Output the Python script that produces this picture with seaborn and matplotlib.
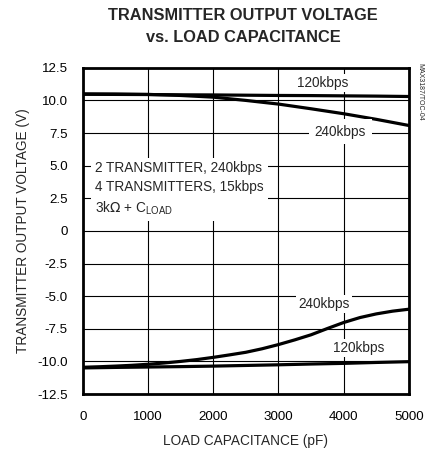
import matplotlib
matplotlib.use("Agg")
import matplotlib.pyplot as plt
import seaborn as sns
import pandas as pd

cap = [0, 500, 1000, 1500, 2000, 2500, 3000, 3500, 4000, 4500, 5000]
pos_120 = [10.47, 10.46, 10.45, 10.43, 10.42, 10.4, 10.38, 10.37, 10.35, 10.33, 10.3]
pos_240 = [10.5, 10.49, 10.46, 10.38, 10.25, 10.0, 9.72, 9.36, 8.98, 8.55, 8.08]
neg_120 = [-10.5, -10.46, -10.43, -10.4, -10.36, -10.31, -10.26, -10.2, -10.15, -10.08, -10.02]
cap_fine = [0, 250, 500, 750, 1000, 1250, 1500, 1750, 2000, 2250, 2500,
            2750, 3000, 3250, 3500, 3750, 4000, 4250, 4500, 4750, 5000]
neg_240 = [-10.45, -10.41, -10.36, -10.3, -10.22, -10.12, -10.0, -9.86, -9.69, -9.5, -9.3,
           -9.03, -8.71, -8.35, -7.96, -7.48, -7.02, -6.64, -6.36, -6.15, -6.0]

xticks = [0, 1000, 2000, 3000, 4000, 5000]
yticks = [12.5, 10.0, 7.5, 5.0, 2.5, 0, -2.5, -5.0, -7.5, -10.0, -12.5]
ytick_labels = ["12.5", "10.0", "7.5", "5.0", "2.5", "0", "-2.5", "-5.0", "-7.5", "-10.0", "-12.5"]

rows = []
for name, xs, vals in [("p120", cap, pos_120), ("p240", cap, pos_240),
                       ("n120", cap, neg_120), ("n240", cap_fine, neg_240)]:
    for c, v in zip(xs, vals):
        rows.append({"cap": c, "v": v, "series": name})
df = pd.DataFrame(rows)

sns.set_style("white")
plt.rcParams["font.family"] = ["Liberation Sans", "DejaVu Sans"]

fig = plt.figure(figsize=(4.25, 4.55), dpi=100)
ax = fig.add_axes([0.195, 0.134, 0.767, 0.717])

ax.set_xlim(0, 5000)
ax.set_ylim(-12.5, 12.5)
ax.set_xticks(xticks)
ax.set_yticks(yticks)
ax.set_yticklabels(ytick_labels)
ax.grid(True, color="black", linewidth=0.8)
ax.set_axisbelow(True)

sns.lineplot(data=df, x="cap", y="v", hue="series", units="series", estimator=None,
             palette={"p120": "black", "p240": "black", "n120": "black", "n240": "black"},
             linewidth=2.3, legend=False, ax=ax, zorder=3)
for ln in ax.get_lines():
    ln.set_solid_joinstyle("round")

for s in ax.spines.values():
    s.set_linewidth(2.0)
    s.set_color("black")
    s.set_visible(True)
ax.tick_params(axis="both", length=0, labelsize=9.6, colors="black")
ax.tick_params(axis="x", pad=12)
ax.tick_params(axis="y", pad=11)

ax.set_xlabel("LOAD CAPACITANCE (pF)", fontsize=9.8, labelpad=8)
ax.set_ylabel("TRANSMITTER OUTPUT VOLTAGE (V)", fontsize=9.8, labelpad=5)

fig.text(0.572, 0.982, "TRANSMITTER OUTPUT VOLTAGE\nvs. LOAD CAPACITANCE", ha="center", va="top",
         fontsize=11.8, fontweight="bold", linespacing=1.55)

bb = dict(facecolor="white", edgecolor="none", pad=1.5)
fs = 9.8
ax.text(3680, 11.3, "120kbps", ha="center", va="center", fontsize=fs, bbox=bb, zorder=4)
ax.text(3950, 7.6, "240kbps", ha="center", va="center", fontsize=fs,
        bbox=dict(facecolor="white", edgecolor="none", pad=4), zorder=4)
ax.text(3700, -5.6, "240kbps", ha="center", va="center", fontsize=fs, bbox=bb, zorder=4)
ax.text(4230, -9.0, "120kbps", ha="center", va="center", fontsize=fs, bbox=bb, zorder=4)

ax.text(190, 3.2, "2 TRANSMITTER, 240kbps\n4 TRANSMITTERS, 15kbps\n3k$\\Omega$ + C$_{\\mathregular{LOAD}}$",
        ha="left", va="center", fontsize=fs, linespacing=1.45,
        bbox=dict(facecolor="white", edgecolor="none", pad=3), zorder=4)

fig.text(0.988, 0.862, "MAX3187/TOC-04", rotation=270, ha="center", va="top", fontsize=5)

fig.savefig("out.png", dpi=100)
